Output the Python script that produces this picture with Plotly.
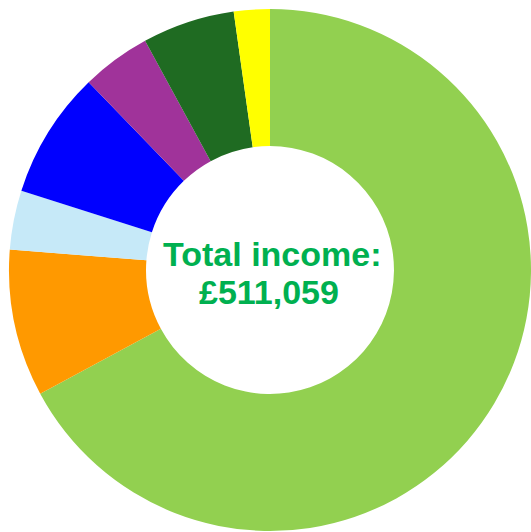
import plotly.graph_objects as go

categories = ["Category A", "Category B", "Category C", "Category D",
              "Category E", "Category F", "Category G"]
values = [343100, 46560, 18760, 40170, 21870, 29230, 11369]
colors = ["#92D050", "#FF9900", "#C6E9F8", "#0000FF", "#A0339A", "#1F6B22", "#FFFF00"]
title_line1 = "Total income:"
title_line2 = "£511,059"

W, H = 531, 532
fig = go.Figure(go.Pie(
    labels=categories,
    values=values,
    marker=dict(colors=colors, line=dict(width=0)),
    hole=0.475,
    sort=False,
    direction="clockwise",
    rotation=0,
    textinfo="none",
    hoverinfo="label+value+percent",
    showlegend=False,
    domain=dict(x=[9 / W, 1], y=[1 / H, 523 / H]),
))

font = dict(family="Liberation Sans, Arial, sans-serif", size=34, color="#00B050")
fig.add_annotation(x=272 / W, y=1 - 254 / H, xref="paper", yref="paper",
                   text="<b>" + title_line1 + "</b>", showarrow=False,
                   xanchor="center", yanchor="middle", font=font)
fig.add_annotation(x=269 / W, y=1 - 292 / H, xref="paper", yref="paper",
                   text="<b>" + title_line2 + "</b>", showarrow=False,
                   xanchor="center", yanchor="middle", font=font)

fig.update_layout(width=W, height=H, margin=dict(l=0, r=0, t=0, b=0),
                  paper_bgcolor="white", plot_bgcolor="white")
fig.write_html(
    "out.html",
    config={"displayModeBar": False},
    post_script="document.body.style.margin='0';document.body.style.overflow='hidden';",
)
